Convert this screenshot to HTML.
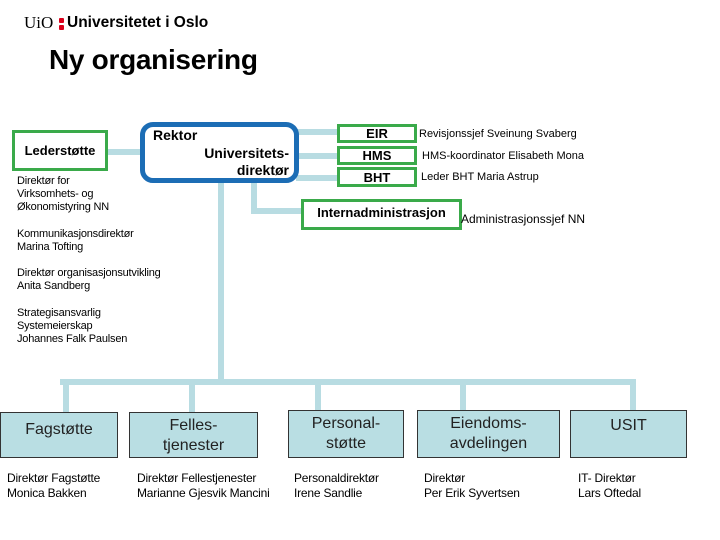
<!DOCTYPE html>
<html><head><meta charset="utf-8"><style>
body{margin:0;width:720px;height:540px;background:#fff;position:relative;overflow:hidden;font-family:"Liberation Sans",Arial,sans-serif;color:#000}
div{position:absolute;box-sizing:border-box}
.c{background:#b8dce2}
.g{border:3px solid #3aaa4a;background:#fff;font-weight:bold;text-align:center}
.b{background:#b9dee3;border:1.5px solid #333;text-align:center;font-size:16px;line-height:20px;color:#222}
.t{font-size:11px;line-height:13px;white-space:nowrap;letter-spacing:-0.2px}
.s{font-size:11px;line-height:14px;white-space:nowrap}
</style></head><body>
<div style="left:24px;top:14px;font-family:'Liberation Serif',serif;font-size:17px;line-height:18px">UiO</div>
<div style="left:59px;top:18px;width:5px;height:5px;background:#d9001b;border-radius:1px"></div>
<div style="left:59px;top:25px;width:5px;height:5px;background:#d9001b;border-radius:1px"></div>
<div style="left:67px;top:14px;font-weight:bold;font-size:15.5px;line-height:18px">Universitetet i Oslo</div>
<div style="left:49px;top:43px;font-weight:bold;font-size:28px;line-height:34px;letter-spacing:-0.3px">Ny organisering</div>

<!-- connectors -->
<div class="c" style="left:108px;top:149px;width:36px;height:6px"></div>
<div class="c" style="left:296px;top:129px;width:42px;height:6px"></div>
<div class="c" style="left:296px;top:153px;width:42px;height:6px"></div>
<div class="c" style="left:296px;top:175px;width:42px;height:6px"></div>
<div class="c" style="left:251px;top:180px;width:6px;height:34px"></div>
<div class="c" style="left:251px;top:208px;width:52px;height:6px"></div>
<div class="c" style="left:218px;top:180px;width:6px;height:203px"></div>
<div class="c" style="left:60px;top:379px;width:576px;height:6px"></div>
<div class="c" style="left:63px;top:379px;width:6px;height:34px"></div>
<div class="c" style="left:189px;top:379px;width:6px;height:34px"></div>
<div class="c" style="left:315px;top:379px;width:6px;height:32px"></div>
<div class="c" style="left:460px;top:379px;width:6px;height:32px"></div>
<div class="c" style="left:630px;top:379px;width:6px;height:32px"></div>

<div class="g" style="left:12px;top:130px;width:96px;height:41px;font-size:13px;line-height:35px">Lederstøtte</div>
<div style="left:140px;top:122px;width:159px;height:61px;border:5px solid #1c6db5;border-radius:13px;background:#fff"></div>
<div style="left:153px;top:127px;font-weight:bold;font-size:14px;line-height:16px">Rektor</div>
<div style="left:180px;top:145px;width:109px;text-align:right;font-weight:bold;font-size:14px;line-height:17px">Universitets-<br>direktør</div>

<div class="g" style="left:337px;top:124px;width:80px;height:19px;font-size:13px;line-height:13px">EIR</div>
<div class="g" style="left:337px;top:146px;width:80px;height:19px;font-size:13px;line-height:14px">HMS</div>
<div class="g" style="left:337px;top:167px;width:80px;height:20px;font-size:13px;line-height:16px">BHT</div>
<div class="g" style="left:301px;top:199px;width:161px;height:31px;font-size:13px;line-height:22px">Internadministrasjon</div>
<div class="s" style="left:419px;top:127px">Revisjonssjef Sveinung Svaberg</div>
<div class="s" style="left:422px;top:149px">HMS-koordinator Elisabeth Mona</div>
<div class="s" style="left:421px;top:170px">Leder BHT Maria Astrup</div>
<div class="s" style="left:461px;top:212px;font-size:12px">Administrasjonssjef NN</div>

<div class="t" style="left:17px;top:175px">Direktør for<br>Virksomhets- og<br>Økonomistyring NN</div>
<div class="t" style="left:17px;top:228px">Kommunikasjonsdirektør<br>Marina Tofting</div>
<div class="t" style="left:17px;top:267px">Direktør organisasjonsutvikling<br>Anita Sandberg</div>
<div class="t" style="left:17px;top:307px">Strategisansvarlig<br>Systemeierskap<br>Johannes Falk Paulsen</div>

<div class="b" style="left:0;top:412px;width:118px;height:46px;padding-top:7px">Fagstøtte</div>
<div class="b" style="left:129px;top:412px;width:129px;height:46px;padding-top:3px">Felles-<br>tjenester</div>
<div class="b" style="left:288px;top:410px;width:116px;height:48px;padding-top:3px">Personal-<br>støtte</div>
<div class="b" style="left:417px;top:410px;width:143px;height:48px;padding-top:3px">Eiendoms-<br>avdelingen</div>
<div class="b" style="left:570px;top:410px;width:117px;height:48px;padding-top:5px">USIT</div>

<div class="t" style="left:7px;top:471px;font-size:12px;line-height:15px">Direktør Fagstøtte<br>Monica Bakken</div>
<div class="t" style="left:137px;top:471px;font-size:12px;line-height:15px">Direktør Fellestjenester<br>Marianne Gjesvik Mancini</div>
<div class="t" style="left:294px;top:471px;font-size:12px;line-height:15px">Personaldirektør<br>Irene Sandlie</div>
<div class="t" style="left:424px;top:471px;font-size:12px;line-height:15px">Direktør<br>Per Erik Syvertsen</div>
<div class="t" style="left:578px;top:471px;font-size:12px;line-height:15px">IT- Direktør<br>Lars Oftedal</div>
</body></html>
